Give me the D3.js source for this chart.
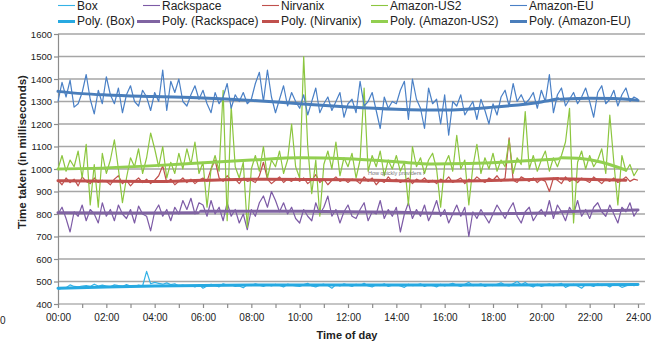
<!DOCTYPE html>
<html>
<head>
<meta charset="utf-8">
<script src="https://cdn.jsdelivr.net/npm/d3@7"></script>
<style>
  body { margin: 0; background: #fff; }
  svg text { font-family: "Liberation Sans", Arial, sans-serif; fill: #222; }
</style>
</head>
<body>
<svg id="chart" width="664" height="347"></svg>
<script>
// readings every 10 minutes, 00:00 -> 24:00 (145 values each)
var seriesNames = ["Box", "Rackspace", "Nirvanix", "Amazon-US2", "Amazon-EU"];
var xTickLabels = ["00:00","02:00","04:00","06:00","08:00","10:00","12:00","14:00","16:00","18:00","20:00","22:00","24:00"];
var yTicks = [400,500,600,700,800,900,1000,1100,1200,1300,1400,1500,1600];

var boxVals = [
  465,470,472,485,478,476,480,482,478,488,480,484,
  480,476,485,482,478,486,480,478,484,480,545,490,
  496,492,488,494,486,490,480,484,478,482,476,486,
  470,480,488,482,476,490,484,486,478,480,472,486,
  482,490,484,478,486,480,488,482,476,488,484,480,
  478,486,492,480,476,484,488,482,470,486,480,490,
  484,478,488,482,492,480,476,486,482,490,478,484,
  486,480,474,488,482,484,490,478,486,482,476,488,
  480,486,492,484,478,488,496,482,484,490,478,486,
  482,488,494,484,480,490,500,486,496,482,476,488,
  478,484,490,480,486,492,474,482,488,480,470,486,
  484,478,490,482,486,476,488,484,474,480,486,482,
  486];

var rackspaceVals = [
  800,830,780,720,810,790,840,770,820,800,760,850,
  790,820,770,840,800,780,820,760,835,800,790,725,
  810,840,790,820,770,830,800,860,820,870,800,850,
  840,790,860,800,830,770,850,790,820,760,800,730,
  820,790,850,880,830,900,860,810,850,800,830,780,
  760,820,790,770,850,800,830,880,790,820,760,810,
  840,790,780,820,850,770,810,800,860,780,820,790,
  830,720,800,850,780,820,790,840,770,810,860,790,
  820,760,800,840,790,830,700,810,780,820,790,760,
  800,840,810,780,820,850,790,760,810,830,770,800,
  820,790,860,780,840,810,770,830,800,860,790,820,
  780,830,850,810,790,840,800,760,830,810,850,790,
  820];

var nirvanixVals = [
  950,930,960,940,955,925,965,945,935,960,940,950,
  945,930,955,970,935,950,925,945,960,940,955,935,
  950,970,1015,940,955,930,945,960,940,955,935,950,
  960,945,1000,1040,960,945,970,950,955,935,960,945,
  950,940,970,1030,955,935,950,965,940,955,945,960,
  945,960,935,950,975,940,955,930,950,965,945,955,
  940,955,950,935,965,945,960,930,950,940,965,945,
  955,940,950,960,935,955,945,960,940,950,935,955,
  945,965,940,950,960,935,955,945,965,950,940,960,
  950,970,945,960,1138,950,940,965,955,945,960,940,
  955,945,900,960,950,935,965,945,955,940,960,950,
  940,965,950,935,955,945,960,940,950,965,945,955,
  950];

var amazonUS2Vals = [
  1000,1060,990,1040,1010,1080,960,1110,840,1020,830,1070,
  980,1040,1130,1000,850,960,1050,1010,1090,980,1050,1160,
  1090,1010,1100,960,1030,980,1070,1000,1090,1020,1120,980,
  1030,830,1000,1060,990,1350,770,1280,1010,960,1030,740,
  1000,1060,990,1100,960,1040,1010,1080,980,1040,1200,1010,
  960,1500,1100,890,1040,790,1020,1080,1000,1120,970,1050,
  1010,1070,960,1040,1360,990,1060,1010,1080,970,1040,1000,
  1060,990,1030,840,1100,1010,1050,980,1040,1070,1000,830,
  1020,1060,990,1150,1000,1040,840,1010,1110,980,1050,1000,
  1070,990,1040,1010,1130,980,1050,1020,1255,1000,1060,990,
  1040,1080,990,1050,1010,1060,1120,1270,760,1030,1080,1000,
  1060,1010,1040,1090,980,1240,1030,840,1060,990,1020,970,
  1000];

var amazonEUVals = [
  1300,1385,1320,1395,1275,1290,1340,1420,1310,1245,1350,1290,
  1410,1330,1290,1360,1250,1330,1370,1300,1280,1350,1320,1260,
  1340,1300,1440,1260,1390,1340,1400,1300,1280,1330,1370,1310,
  1350,1290,1250,1340,1290,1320,1380,1270,1330,1300,1340,1290,
  1310,1380,1430,1300,1440,1320,1250,1310,1370,1280,1340,1300,
  1270,1330,1240,1300,1360,1250,1290,1320,1260,1300,1340,1230,
  1290,1310,1250,1390,1280,1300,1340,1260,1180,1320,1270,1300,
  1290,1350,1390,1220,1400,1310,1270,1180,1360,1290,1310,1200,
  1330,1150,1300,1280,1330,1240,1270,1300,1220,1310,1260,1200,
  1290,1240,1320,1350,1280,1380,1300,1330,1290,1310,1340,1270,
  1350,1300,1420,1250,1330,1360,1280,1310,1340,1290,1320,1360,
  1300,1230,1340,1370,1290,1310,1350,1280,1330,1360,1300,1320,
  1310];

// polynomial trendlines: [hour, ms], null = break
var trendBox = [[0,470],[2,476],[4,480],[8,484],[16,484],[24,487]];
var trendRackspace = [[0,806],[3,804],[5.8,806],null,[5.9,812],[10,812],[14,808],[17,801],[20.7,806],null,[20.8,810],[24,818]];
var trendNirvanix = [[0,948],[4,944],[8,955],[12,952],[16,946],[20.7,958],null,[20.8,957],[23.5,950]];
var trendUS2 = [[0,1000],[2,1005],[4,1015],[6,1028],[8,1040],[10,1050],[12,1046],[14,1032],[15.5,1022],[17,1024],[19,1034],[20.7,1045],null,[20.8,1050],[21.5,1048],[22.5,1030],[23.5,995]];
var trendEU = [[0,1345],[1,1335],[2,1329],[4,1322],[6,1316],[8,1305],[10,1290],[12,1276],[14,1266],[16,1262],[18,1275],[20,1298],[20.7,1312],null,[20.8,1310],[22,1314],[23,1313],[24,1305]];

var rawColors = ["#35b2e6", "#7d5ba6", "#c0504d", "#8cc63f", "#4a80c6"];
var trendColors = ["#27a9e1", "#8064a2", "#c0504d", "#92cf50", "#4a7ebb"];

var svg = d3.select("#chart");
var margin = {left: 58, right: 27, top: 34, bottom: 43};
var width = 664, height = 347;

var xScale = d3.scaleLinear().domain([0, 24]).range([margin.left, 638]);
var yScale = d3.scaleLinear().domain([400, 1600]).range([height - margin.bottom, margin.top]);

//gridlines
svg.append("g").selectAll("line")
    .data(yTicks.slice(1))
    .enter().append("line")
    .attr("x1", margin.left).attr("x2", 645)
    .attr("y1", function(d) { return yScale(d); })
    .attr("y2", function(d) { return yScale(d); })
    .attr("stroke", "#a6a6a6")
    .attr("stroke-width", 1.5);

//y axis
var yAxis = d3.axisLeft(yScale).tickValues(yTicks).tickFormat(d3.format("d")).tickSize(4).tickPadding(2);
var gy = svg.append("g")
    .attr("transform", "translate(" + margin.left + ",0)")
    .call(yAxis);
gy.selectAll("text").attr("font-size", "9.5px").style("fill", "#222");

//x axis with hourly ticks
var xAxis = d3.axisBottom(xScale)
    .tickValues(d3.range(0, 25, 1))
    .tickSize(4)
    .tickFormat(function(d) { return d % 2 == 0 ? xTickLabels[d / 2] : ""; });
var gx = svg.append("g")
    .attr("transform", "translate(0," + yScale(400) + ")")
    .call(xAxis);
gx.selectAll("text").attr("font-size", "10px").attr("dy", "0.95em").style("fill", "#222");
gx.select(".domain").attr("d", "M" + margin.left + ",0H645");

svg.selectAll(".domain, .tick line").attr("stroke", "#8c8c8c").attr("stroke-width", 1.2);

//raw series
var allVals = [boxVals, rackspaceVals, nirvanixVals, amazonUS2Vals, amazonEUVals];
var line = d3.line()
    .x(function(d, i) { return xScale(i / 6); })
    .y(function(d) { return yScale(d); });

allVals.forEach(function(vals, k) {
    svg.append("path")
        .datum(vals)
        .attr("class", "raw")
        .attr("fill", "none")
        .attr("stroke", rawColors[k])
        .attr("stroke-width", 1.2)
        .attr("stroke-linejoin", "round")
        .attr("d", line);
});

//trendlines
var trendLine = d3.line()
    .defined(function(d) { return d != null; })
    .x(function(d) { return xScale(d[0]); })
    .y(function(d) { return yScale(d[1]); })
    .curve(d3.curveMonotoneX);

[trendBox, trendRackspace, trendNirvanix, trendUS2, trendEU].forEach(function(t, k) {
    svg.append("path")
        .datum(t)
        .attr("fill", "none")
        .attr("stroke", trendColors[k])
        .attr("stroke-width", 3)
        .attr("stroke-linecap", "round")
        .attr("d", trendLine);
});

//tiny leftover label in the plot
svg.append("text")
    .attr("x", 368).attr("y", 174.5)
    .attr("font-size", "5.5px")
    .style("fill", "#777")
    .text("How quickly providers r");

//legend: two rows
var legX = [58, 143, 262, 371, 510];
var legX2 = [58, 137, 262, 371, 510];
seriesNames.forEach(function(name, k) {
    svg.append("line")
        .attr("x1", legX[k]).attr("x2", legX[k] + 17)
        .attr("y1", 5.5).attr("y2", 5.5)
        .attr("stroke", rawColors[k]).attr("stroke-width", 1.1);
    svg.append("text")
        .attr("x", legX[k] + 19).attr("y", 10)
        .attr("font-size", "12px")
        .text(name);
    svg.append("line")
        .attr("x1", legX2[k]).attr("x2", legX[k] + 17)
        .attr("y1", 21.5).attr("y2", 21.5)
        .attr("stroke", trendColors[k]).attr("stroke-width", 3);
    svg.append("text")
        .attr("x", legX[k] + 19).attr("y", 25)
        .attr("font-size", "12px")
        .text("Poly. (" + name + ")");
});

//axis titles
svg.append("text")
    .attr("transform", "translate(26,152) rotate(-90)")
    .attr("text-anchor", "middle")
    .attr("font-size", "11.5px")
    .attr("font-weight", "bold")
    .text("Time taken (in milliseconds)");

svg.append("text")
    .attr("x", 347).attr("y", 339)
    .attr("text-anchor", "middle")
    .attr("font-size", "11px")
    .attr("font-weight", "bold")
    .text("Time of day");

// stray label at left edge
svg.append("text")
    .attr("x", 0).attr("y", 324)
    .attr("font-size", "10px")
    .text("0");
</script>
</body>
</html>
